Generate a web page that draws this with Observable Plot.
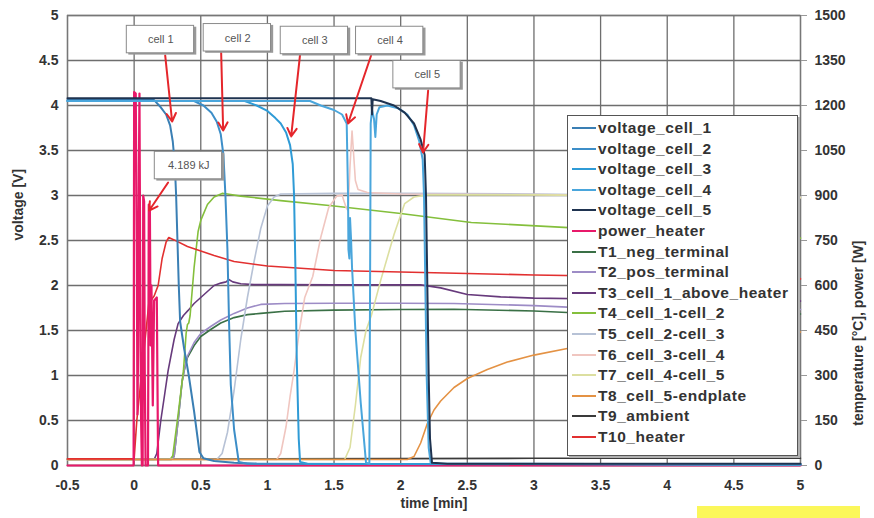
<!DOCTYPE html>
<html><head><meta charset="utf-8">
<script src="https://cdn.jsdelivr.net/npm/d3@7"></script>
<script src="https://cdn.jsdelivr.net/npm/@observablehq/plot@0.6"></script>
<style>
body{margin:0;background:#fff;font-family:"Liberation Sans",Arial,sans-serif;}
#wrap{position:relative;width:874px;height:518px;overflow:hidden;}
#legend{position:absolute;left:567px;top:115px;width:229px;height:339px;border:1.5px solid #555;background:#fff;box-shadow:2px 2px 0 #b0b0b0;}
.row{position:absolute;left:0;height:20px;display:flex;align-items:center;font:bold 15.5px "Liberation Sans",Arial,sans-serif;letter-spacing:0.55px;color:#333;white-space:nowrap;}
.sw{display:inline-block;width:24px;height:2px;margin:0 2px 0 4px;}
#hl{position:absolute;left:697px;top:506px;width:163px;height:12px;background:#fbf75a;}
</style></head>
<body><div id="wrap"><div id="hl"></div></div>
<script>
// ---- data: time [min], voltage [V] ----
const cell1 = [[-0.5,4.06],[0.15,4.06],[0.2,3.98],[0.24,3.9],[0.27,3.78],[0.29,3.6],[0.305,3.35],[0.315,3.0],[0.325,2.5],[0.335,2.0],[0.345,1.6],[0.375,1.3],[0.41,1.0],[0.45,0.6],[0.49,0.15],[0.52,0.08],[0.6,0.05],[0.75,0.03],[0.92,0.02],[5,0.01]];
const cell2 = [[-0.5,4.05],[0.45,4.05],[0.52,4.0],[0.58,3.92],[0.62,3.82],[0.65,3.68],[0.67,3.45],[0.685,3.0],[0.70,2.4],[0.712,1.6],[0.725,0.9],[0.75,0.4],[0.785,0.04],[0.85,0.02],[5,0.01]];
const cell3 = [[-0.5,4.05],[0.83,4.05],[0.92,4.0],[1.0,3.94],[1.06,3.86],[1.1,3.8],[1.14,3.7],[1.17,3.56],[1.19,3.35],[1.2,3.0],[1.21,2.2],[1.22,1.2],[1.235,0.3],[1.245,0.04],[1.3,0.02],[5,0.01]];
const cell4 = [[-0.5,4.05],[1.32,4.05],[1.4,4.0],[1.5,3.95],[1.56,3.9],[1.595,3.8],[1.605,3.0],[1.608,2.4],[1.615,2.3],[1.62,2.75],[1.628,2.5],[1.635,2.2],[1.66,1.5],[1.7,0.7],[1.74,0.03],[1.765,0.02],[1.775,3.8],[1.785,3.95],[1.8,3.85],[1.81,3.65],[1.82,3.9],[1.84,3.98],[1.9,4.0],[1.98,3.97],[2.05,3.9],[2.1,3.78],[2.14,3.6],[2.165,3.4],[2.175,3.0],[2.185,2.0],[2.195,1.0],[2.21,0.2],[2.225,0.03],[2.3,0.02],[5,0.01]];
const cell5 = [[-0.5,4.08],[1.78,4.08],[1.785,3.9],[1.79,4.07],[1.85,4.05],[1.95,4.0],[2.03,3.92],[2.1,3.8],[2.15,3.62],[2.18,3.45],[2.19,3.0],[2.2,2.0],[2.21,1.0],[2.22,0.3],[2.235,0.03],[2.35,0.02],[5,0.02]];
// ---- data: time [min], power [W] ----
const powerHeater = [[-0.5,0],[-0.004,0],[0.0,1245],[0.012,1240],[0.02,700],[0.025,170],[0.03,400],[0.036,1000],[0.04,1240],[0.046,600],[0.052,160],[0.058,0],[0.064,0],[0.068,900],[0.075,880],[0.08,300],[0.086,0],[0.104,0],[0.11,870],[0.118,860],[0.124,400],[0.13,600],[0.14,200],[0.15,550],[0.17,560],[0.18,0],[5,0]];
// ---- data: time [min], temperature [°C] ----
const T1 = [[-0.5,20],[0.28,20],[0.3,30],[0.33,150],[0.36,280],[0.375,316],[0.4,360],[0.45,400],[0.5,430],[0.58,455],[0.65,475],[0.75,493],[0.85,503],[0.95,507],[1.13,514],[1.5,518],[2.0,520],[2.4,521],[3.0,515],[3.25,510],[4,508],[5,505]];
const T2 = [[-0.5,20],[0.28,20],[0.3,30],[0.33,150],[0.36,280],[0.375,316],[0.4,365],[0.45,410],[0.5,440],[0.58,465],[0.65,485],[0.75,507],[0.85,525],[0.95,537],[1.13,540],[1.5,541],[2.0,541],[2.4,540],[3.0,533],[3.25,528],[4,524],[5,520]];
const T3 = [[-0.5,20],[0.15,20],[0.17,40],[0.2,150],[0.23,240],[0.255,316],[0.3,420],[0.33,473],[0.37,500],[0.405,517],[0.45,540],[0.5,560],[0.55,580],[0.6,600],[0.65,608],[0.69,612],[0.71,620],[0.74,612],[0.8,606],[0.9,603],[1.1,603],[1.5,602],[2.0,602],[2.15,602],[2.3,592],[2.5,570],[2.75,562],[3.0,558],[3.5,555],[4,552],[5,548]];
const T4 = [[-0.5,20],[0.27,20],[0.29,33],[0.33,170],[0.37,316],[0.39,440],[0.4,470],[0.41,475],[0.42,500],[0.45,660],[0.48,780],[0.5,817],[0.55,870],[0.6,895],[0.66,907],[0.7,905],[0.8,898],[1.1,883],[1.5,865],[2.0,840],[2.53,810],[3.26,793],[4,775],[5,758]];
const T5 = [[-0.5,20],[0.62,20],[0.66,40],[0.7,110],[0.75,250],[0.8,420],[0.85,560],[0.9,680],[0.95,790],[1.0,865],[1.05,895],[1.1,905],[1.5,907],[2.0,907],[3.0,905],[4.0,900],[5.0,895]];
const T6 = [[-0.5,20],[1.07,20],[1.1,40],[1.14,130],[1.17,230],[1.2,316],[1.24,450],[1.28,560],[1.34,630],[1.4,760],[1.46,860],[1.52,898],[1.56,902],[1.59,860],[1.605,850],[1.62,1000],[1.635,1115],[1.645,1050],[1.66,950],[1.68,920],[1.75,910],[2.0,905],[3,903],[4,898],[5,893]];
const T7 = [[-0.5,20],[1.58,20],[1.62,60],[1.66,200],[1.7,360],[1.74,450],[1.78,500],[1.85,617],[1.95,770],[2.03,873],[2.1,895],[2.2,902],[3,902],[4,898],[5,893]];
const T8 = [[-0.5,20],[2.05,20],[2.1,30],[2.15,75],[2.2,140],[2.25,185],[2.3,215],[2.4,260],[2.5,290],[2.65,320],[2.8,345],[3.0,368],[3.25,390],[3.5,405],[4,425],[4.5,437],[5,445]];
const T9 = [[-0.5,22],[1,22],[2,23],[3,24],[5,24]];
const T10 = [[-0.5,22],[0,22],[0.02,150],[0.05,280],[0.08,410],[0.11,540],[0.15,565],[0.18,600],[0.21,690],[0.24,745],[0.26,760],[0.3,752],[0.4,730],[0.5,715],[0.6,700],[0.75,680],[1.0,665],[1.5,650],[2.0,645],[2.5,640],[3.0,635],[4.0,628],[5.0,622]];

const names = ["voltage_cell_1","voltage_cell_2","voltage_cell_3","voltage_cell_4","voltage_cell_5","power_heater","T1_neg_terminal","T2_pos_terminal","T3_cell_1_above_heater","T4_cell_1-cell_2","T5_cell_2-cell_3","T6_cell_3-cell_4","T7_cell_4-cell_5","T8_cell_5-endplate","T9_ambient","T10_heater"];
const colors = ["#3a7fb4","#3d8ec8","#2f9bd6","#4aa6dc","#1f3350","#e8196a","#3a7046","#9d8cc6","#673a7c","#84bf3c","#b7c2d6","#f0c6c0","#dcdfa0","#e49244","#3a3a3a","#e23030"];
const series = [cell1,cell2,cell3,cell4,cell5,powerHeater,T1,T2,T3,T4,T5,T6,T7,T8,T9,T10];
const isVoltage = [1,1,1,1,1,0,0,0,0,0,0,0,0,0,0,0];
const drawOrder = [14,6,7,8,9,10,11,12,13,15,5,0,1,2,3,4];

const xTicks = [-0.5,0,0.5,1,1.5,2,2.5,3,3.5,4,4.5,5];
const yTicks = [0,0.5,1,1.5,2,2.5,3,3.5,4,4.5,5];
const rightFactor = 300; // 5 V  <->  1500 °C / W

// annotations (time, voltage)
const boxes = [
  {label:"cell 1", t:0.2, v:4.73},
  {label:"cell 2", t:0.777, v:4.75},
  {label:"cell 3", t:1.355, v:4.72},
  {label:"cell 4", t:1.92, v:4.72},
  {label:"cell 5", t:2.2, v:4.34},
  {label:"4.189 kJ", t:0.41, v:3.33}
];
const arrows = [
  {t1:0.233,v1:4.556,t2:0.285,v2:3.822},
  {t1:0.653,v1:4.589,t2:0.668,v2:3.722},
  {t1:1.246,v1:4.578,t2:1.178,v2:3.656},
  {t1:1.778,v1:4.556,t2:1.605,v2:3.80},
  {t1:2.206,v1:4.167,t2:2.168,v2:3.478},
  {t1:0.255,v1:3.144,t2:0.113,v2:2.833}
];

const fmt = d => String(+d.toFixed(1));
const lineMarks = drawOrder.map(i => {
  const k = isVoltage[i] ? 1 : 1/rightFactor;
  return Plot.line(series[i], {x: d => d[0], y: d => d[1]*k, stroke: colors[i],
    strokeWidth: isVoltage[i] ? 2 : (i===5 ? 2.2 : 1.6)});
});

const chart = Plot.plot({
  width: 874, height: 518,
  marginLeft: 67, marginRight: 74, marginTop: 15, marginBottom: 53,
  style: {fontFamily: "'Liberation Sans', Arial, sans-serif", fontSize: "14px", fontWeight: "bold", color: "#333", background: "transparent"},
  x: {domain: [-0.5, 5]},
  y: {domain: [0, 5]},
  marks: [
    Plot.gridX(xTicks, {stroke: "#6e6e6e", strokeOpacity: 1, strokeWidth: 1.3}),
    Plot.gridY(yTicks, {stroke: "#6e6e6e", strokeOpacity: 1, strokeWidth: 1.3}),
    Plot.frame({stroke: "#777", strokeWidth: 1.3}),
    Plot.axisX(xTicks, {tickSize: 0, tickPadding: 15, tickFormat: fmt, label: null}),
    Plot.axisY(yTicks, {anchor: "left", tickSize: 0, tickPadding: 9, tickFormat: fmt, label: null}),
    Plot.axisY(yTicks, {anchor: "right", tickSize: 6, tickPadding: 8, stroke: "#999", tickFormat: d => String(Math.round(d*rightFactor)), label: null}),
    Plot.text(["voltage [V]"], {frameAnchor: "left", dx: -49, rotate: -90, fontSize: 14, fontWeight: "bold", fill: "#333"}),
    Plot.text(["temperature [°C], power [W]"], {frameAnchor: "right", dx: 58, rotate: -90, fontSize: 14, fontWeight: "bold", fill: "#333"}),
    Plot.text(["time [min]"], {frameAnchor: "bottom", dy: 42, fontSize: 14, fontWeight: "bold", fill: "#333"}),
    ...lineMarks,
    Plot.arrow(arrows, {x1: "t1", y1: "v1", x2: "t2", y2: "v2", stroke: "#e5262b", strokeWidth: 2, headLength: 7}),
    Plot.rect(boxes, {x1: d => d.t - 0.24, x2: d => d.t + 0.27, y1: d => d.v - 0.17, y2: d => d.v + 0.14, fill: "#999"}),
    Plot.rect(boxes, {x1: d => d.t - 0.255, x2: d => d.t + 0.25, y1: d => d.v - 0.15, y2: d => d.v + 0.155, fill: "#fff", stroke: "#8a8a8a", strokeWidth: 1}),
    Plot.text(boxes, {x: "t", y: "v", text: "label", fontSize: 11, fontWeight: "normal", fill: "#555"})
  ]
});
const wrap = document.getElementById("wrap");
wrap.insertBefore(chart, wrap.firstChild);

// legend overlay
const leg = document.createElement("div");
leg.id = "legend";
names.forEach((n, i) => {
  const r = document.createElement("div");
  r.className = "row";
  r.style.top = (2 + i * 20.6) + "px";
  const sw = document.createElement("span");
  sw.className = "sw";
  sw.style.background = colors[i];
  r.appendChild(sw);
  r.appendChild(document.createTextNode(n));
  leg.appendChild(r);
});
wrap.appendChild(leg);
</script>
</body></html>
